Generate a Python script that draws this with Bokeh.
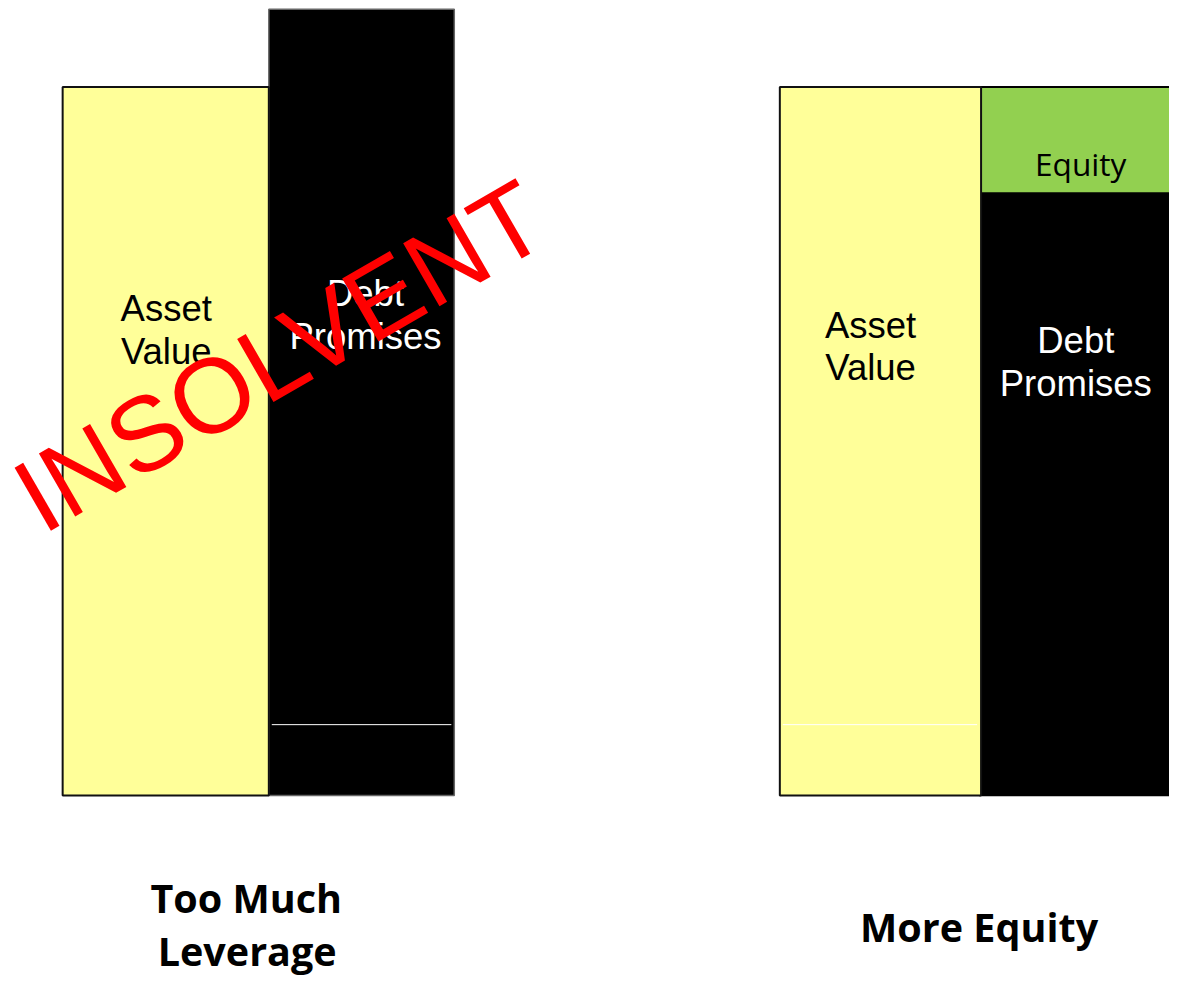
from bokeh.plotting import figure
from bokeh.models import Range1d
from bokeh.core.properties import value
from bokeh.embed import file_html
from bokeh.resources import INLINE
import math

# ---- data (balance-sheet sizes, asset value = 100) ----
panels = ["Too Much Leverage", "More Equity"]
asset_value = [100, 100]
debt_promises = [111, 85]
equity = [0, 15]
marker_level = [10, 10]  # thin white divider seen inside the bars

W, H = 1169, 977
REF_W, REF_H = 1185, 993          # layout designed in reference pixels
PX = 7.2                          # reference px per value unit
BASE = 808.0                      # reference y of value 0
SF = W / REF_W                    # font scale


def vy(sy):
    """reference-pixel y -> value units"""
    return (BASE - sy) / PX


def fs(px):
    return f"{px * SF:.1f}px"


p = figure(width=W, height=H, output_backend="svg", toolbar_location=None,
           x_range=Range1d(0, REF_W), y_range=Range1d(vy(REF_H), vy(0)),
           min_border=0, outline_line_color=None, background_fill_color="white")
p.axis.visible = False
p.grid.visible = False

# horizontal placement of each panel's columns (layout only)
asset_lr = [(63, 272), (790, 994)]
debt_lr = [(272, 460), (992, 1210)]

# debt columns
p.quad(left=[d[0] for d in debt_lr], right=[d[1] for d in debt_lr],
       bottom=[0, 0], top=debt_promises, fill_color="black",
       line_color=["#666666", "black"], line_width=1.5)
# equity on top of debt
p.quad(left=[debt_lr[1][0]], right=[debt_lr[1][1]], bottom=[debt_promises[1]],
       top=[debt_promises[1] + equity[1]], fill_color="#92D050",
       line_color="black", line_width=2)
# asset columns
p.quad(left=[a[0] for a in asset_lr], right=[a[1] for a in asset_lr],
       bottom=[0, 0], top=asset_value, fill_color="#FFFF99",
       line_color="#111111", line_width=2)

# thin white divider lines
p.segment(x0=[debt_lr[0][0] + 3, asset_lr[1][0] + 3], x1=[debt_lr[0][1] - 3, asset_lr[1][1] - 4],
          y0=marker_level, y1=marker_level, line_color="white", line_width=1)

# in-bar labels (y = vertical centre of the capitals, reference px)
lab_font = value("Liberation Sans")


def lab(x, sy_list, lines, color, size=37, font=lab_font):
    p.text(x=[x] * len(lines), y=[vy(s) for s in sy_list], text=lines,
           text_align="center", text_baseline="alphabetic", text_color=color,
           text_font=font, text_font_size=fs(size))


lab(168, [313, 357], ["Asset", "Value"], "black")
lab(370, [298, 341], ["Debt", "Promises"], "white")
lab(882, [330, 373], ["Asset", "Value"], "black")
lab(1090, [346, 389], ["Debt", "Promises"], "white")
lab(1095, [166], ["Equity"], "black", size=32, font=value("Open Sans"))

# panel titles
p.text(x=[249, 250, 992], y=[vy(912), vy(966), vy(942)],
       text=["Too Much", "Leverage", "More Equity"],
       text_align="center", text_baseline="alphabetic", text_color="black",
       text_font=value("Open Sans"), text_font_size=fs(40), text_font_style="bold")

# INSOLVENT stamp
p.text(x=[283], y=[vy(361)], text=["INSOLVENT"], angle=math.radians(30),
       text_align="center", text_baseline="alphabetic", text_color="#FF0000",
       text_font=lab_font, text_font_size=fs(107))

open("out.html", "w").write(file_html(p, INLINE))
